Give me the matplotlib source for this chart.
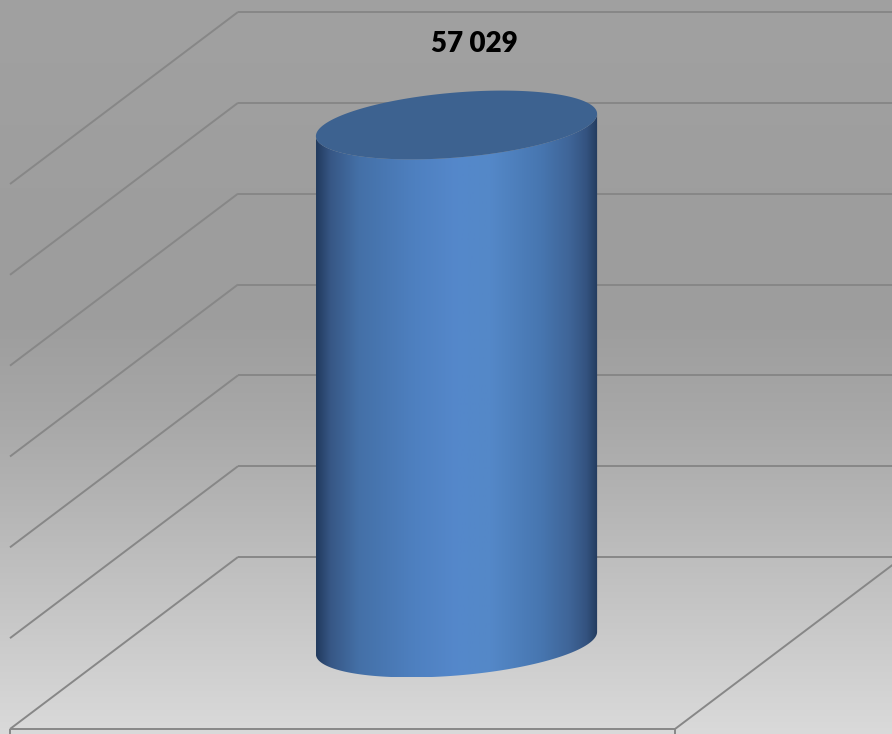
import numpy as np
import matplotlib
matplotlib.use("Agg")
import matplotlib.pyplot as plt
from matplotlib.colors import LinearSegmentedColormap
from matplotlib.patches import Polygon

# ---- data ----
categories = [""]
values = [57029]
value_ticks = [0, 10000, 20000, 30000, 40000, 50000, 60000]
value_max = 60000

# ---- figure ----
W, H = 892, 734
fig = plt.figure(figsize=(W / 100, H / 100), dpi=100)
ax = fig.add_axes([0, 0, 1, 1])
ax.set_xlim(0, W)
ax.set_ylim(H, 0)
ax.axis("off")

# oblique 3-D projection (category fraction, depth 0..1, value)
FX0, FY0 = 10, 729
XW = 665
DX, DY = 228, -172
VH = 545


def proj(xf, d, v):
    xf = np.asarray(xf, float)
    d = np.asarray(d, float)
    v = np.asarray(v, float)
    return FX0 + XW * xf + DX * d, FY0 + DY * d - VH * v / value_max


# background gradient
stops_y = [0, 250, 330, 420, 500, 560, 734]
stops_g = [161, 157, 158, 168, 180, 190, 218]
yy = np.arange(H)
g = np.interp(yy, stops_y, stops_g) / 255.0
bg = np.repeat(g[:, None], 2, axis=1)
ax.imshow(np.dstack([bg, bg, bg]), extent=[0, W, H, 0], origin="upper",
          aspect="auto", zorder=0, interpolation="bilinear")

line_kw = dict(color="#878787", lw=1.4, solid_capstyle="butt", zorder=1)
for v in value_ticks:
    x0, y0 = proj(0, 1, v)
    x1, y1 = proj(1, 1, v)
    xs, ys = proj(0, 0, v)
    ax.plot([x0, x1], [y0, y1], **line_kw)
    ax.plot([x0, xs], [y0, ys], **line_kw)
# floor front / right edges
xa, ya = proj(0, 0, 0)
xb, yb = proj(1, 0, 0)
xc_, yc_ = proj(1, 1, 0)
ax.plot([xa, xb], [ya, yb], **line_kw)
ax.plot([xb, xc_], [yb, yc_], **line_kw)
# category tick marks
for xf in np.linspace(0, 1, len(categories) + 1):
    tx, ty = proj(xf, 0, 0)
    ax.plot([tx, tx], [ty, ty + 6], **line_kw)

# cylinder shading
side_cmap = LinearSegmentedColormap.from_list("cyl", [
    (0.00, "#223b5e"), (0.05, "#375785"), (0.15, "#4470a7"),
    (0.35, "#4e80c0"), (0.50, "#5588cb"), (0.62, "#5488c8"),
    (0.80, "#4776b0"), (0.90, "#3f6598"), (0.96, "#345380"),
    (1.00, "#233c5f")])
top_color = "#3d6290"

n = len(categories)
theta = np.linspace(0, 2 * np.pi, 1441)[:-1]
for i, val in enumerate(values):
    xc = (i + 0.5) / n
    rx = 0.2 / n
    rd = 0.2
    xf = xc + rx * np.cos(theta)
    dd = 0.5 + rd * np.sin(theta)
    bx, by = proj(xf, dd, 0)
    tx, ty = proj(xf, dd, val)
    imin, imax = int(np.argmin(bx)), int(np.argmax(bx))
    N = len(theta)
    arc1 = [(imin + k) % N for k in range((imax - imin) % N + 1)]
    arc2 = [(imax + k) % N for k in range((imin - imax) % N + 1)]
    front = arc1 if by[arc1].mean() > by[arc2].mean() else arc2[::-1]
    if bx[front[0]] > bx[front[-1]]:
        front = front[::-1]
    pts = list(zip(bx[front], by[front])) + list(zip(tx[front][::-1], ty[front][::-1]))
    side = Polygon(pts, closed=True, facecolor="none", edgecolor="none", zorder=2)
    ax.add_patch(side)
    grad = np.linspace(0, 1, 512)[None, :]
    im = ax.imshow(grad, cmap=side_cmap, extent=[bx.min(), bx.max(), by.max(), ty.min()],
                   aspect="auto", zorder=2, interpolation="bilinear")
    im.set_clip_path(side)
    ax.add_patch(Polygon(list(zip(tx, ty)), closed=True, facecolor=top_color,
                         edgecolor="none", zorder=3))
    cx, cy = proj(xc, 0.5, val)
    ax.annotate(f"{val:,}".replace(",", " "), xy=(cx, cy), xytext=(13, 58),
                textcoords="offset points", ha="center", va="center",
                fontsize=20, fontweight="heavy", family=["Lato", "DejaVu Sans"],
                color="black", zorder=4)

fig.savefig("out.png", dpi=100)
